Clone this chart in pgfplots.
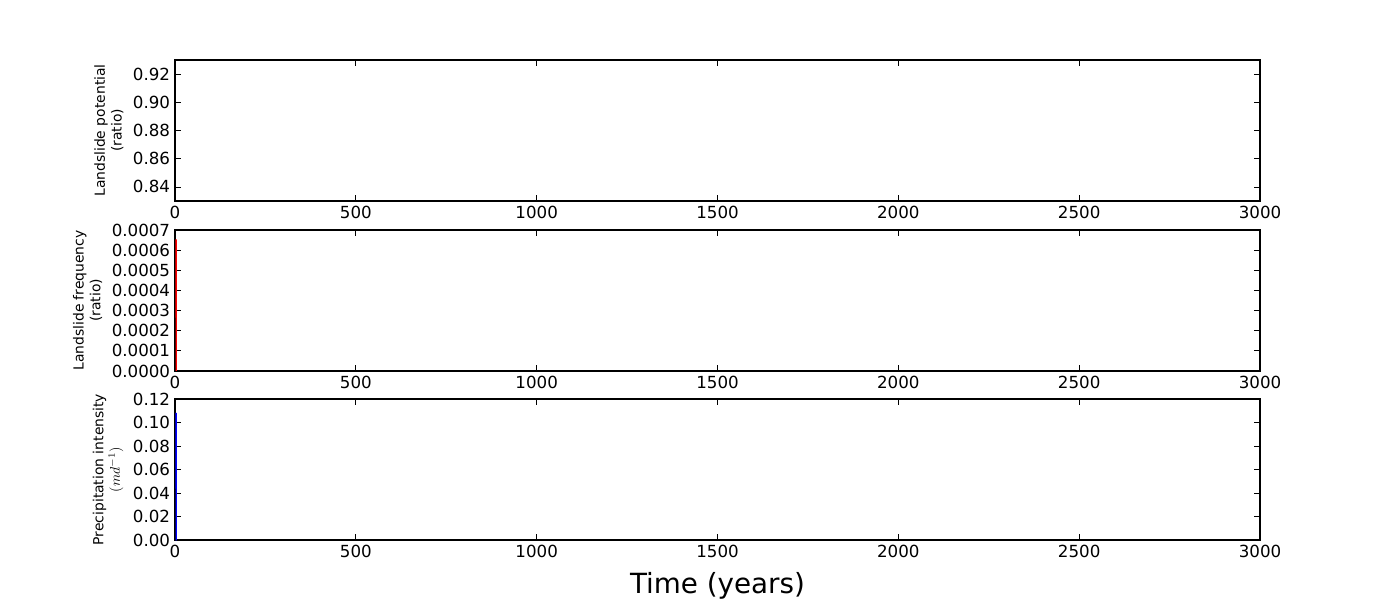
\documentclass[border=0pt]{standalone}
\usepackage{fontspec}
\setmainfont{DejaVu Sans}
\usepackage{pgfplots}
\pgfplotsset{compat=1.18}
\pgfplotsset{
  panel/.style={
    scale only axis,
    width=781.2pt, height=101.5pt,
    xmin=0, xmax=3000,
    xtick={0,500,...,3000},
    tick align=inside,
    major tick length=4pt,
    every tick/.style={black, line width=0.5pt},
    axis line style={line width=1pt},
    ticklabel style={font=\fontsize{12}{14}\selectfont},
    /pgf/number format/assume math mode=true,
    xticklabel style={/pgf/number format/.cd, fixed, 1000 sep={}},
    scaled y ticks=false,
    scaled x ticks=false,
    ylabel style={align=center, font=\fontsize{10}{12}\selectfont},
    minor tick num=0,
  }
}
\begin{document}
\begin{tikzpicture}
\useasboundingbox (0,0) rectangle (1008pt,432pt);
% top panel
\begin{axis}[panel,
  at={(126pt,287.3pt)}, anchor=south west,
  ymin=0.83, ymax=0.93,
  ytick={0.84,0.86,0.88,0.90,0.92},
  yticklabel style={/pgf/number format/.cd, fixed, fixed zerofill, precision=2},
  ylabel={Landslide potential\\(ratio)},
]
\end{axis}
% middle panel
\begin{axis}[panel,
  at={(126pt,164.9pt)}, anchor=south west,
  ymin=0, ymax=0.0007,
  ytick={0,0.0001,0.0002,0.0003,0.0004,0.0005,0.0006,0.0007},
  yticklabel style={/pgf/number format/.cd, fixed, fixed zerofill, precision=4},
  ylabel={Landslide frequency\\(ratio)},
]
\addplot[red, line width=1pt] coordinates {(3,0.000654) (3.5,0) (4,0)};
\end{axis}
% bottom panel
\begin{axis}[panel,
  at={(126pt,43.2pt)}, anchor=south west,
  ymin=0, ymax=0.12,
  ytick={0,0.02,0.04,0.06,0.08,0.10,0.12},
  yticklabel style={/pgf/number format/.cd, fixed, fixed zerofill, precision=2},
  ylabel={Precipitation intensity\\$(md^{-1})$},
  xlabel={Time (years)},
  xlabel style={font=\fontsize{20}{24}\selectfont, yshift=-3.5pt},
]
\addplot[blue, line width=1pt] coordinates {(3,0.1083) (3.5,0) (4,0)};
\end{axis}
\end{tikzpicture}
\end{document}
